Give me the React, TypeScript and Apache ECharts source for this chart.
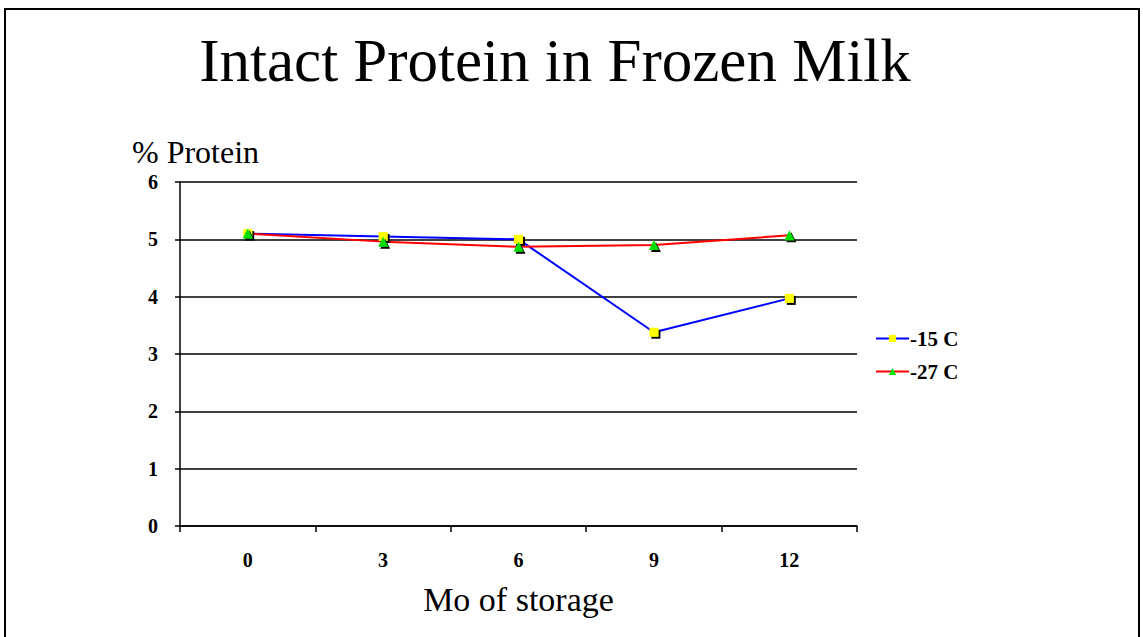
import React, { useEffect, useRef } from "react";
import * as echarts from "echarts";

const months = ["0", "3", "6", "9", "12"];
const minus15 = [5.1, 5.05, 5.0, 3.38, 3.97];
const minus27 = [5.1, 4.96, 4.87, 4.9, 5.07];
const seriesNames = ["-15 C", "-27 C"];
const yAxisTitle = "% Protein";

const SERIF = "Liberation Serif";

export default function App() {
  const ref = useRef<HTMLDivElement>(null);
  useEffect(() => {
    const chart = echarts.init(ref.current!, null, { renderer: "svg" });
    chart.setOption({
      animation: false,
      backgroundColor: "#fff",
      title: [
        {
          text: "Intact Protein in Frozen Milk",
          left: 550,
          textAlign: "center",
          top: 25,
          textStyle: { fontFamily: SERIF, fontSize: 61, fontWeight: "normal", color: "#000" },
        },
        {
          text: yAxisTitle,
          left: 127,
          top: 131,
          textStyle: { fontFamily: SERIF, fontSize: 32, fontWeight: "normal", color: "#000" },
        },
      ],
      graphic: [
        {
          type: "rect",
          shape: { x: 5, y: 9, width: 1134, height: 640 },
          style: { fill: "none", stroke: "#000", lineWidth: 2 },
        },
      ],
      legend: {
        orient: "vertical",
        left: 870,
        top: 323,
        itemGap: 12,
        itemWidth: 33,
        itemHeight: 9,
        textStyle: { fontFamily: SERIF, fontSize: 21, fontWeight: "bold", color: "#000", padding: [0, 0, 0, -4] },
        data: seriesNames,
      },
      grid: { left: 180, right: 286, top: 182, bottom: 111 },
      xAxis: {
        type: "category",
        data: months,
        boundaryGap: true,
        name: "Mo of storage",
        nameLocation: "middle",
        nameGap: 56,
        nameTextStyle: { fontFamily: SERIF, fontSize: 34, color: "#000" },
        axisLine: { lineStyle: { color: "#000", width: 1.5 } },
        axisTick: { show: true, length: 6, lineStyle: { color: "#000", width: 1.5 } },
        axisLabel: { fontFamily: SERIF, fontSize: 20, fontWeight: "bold", color: "#000", margin: 24 },
        splitLine: { show: false },
      },
      yAxis: {
        type: "value",
        min: 0,
        max: 6,
        interval: 1,
        axisLine: { show: true, lineStyle: { color: "#000", width: 1.5 } },
        axisTick: { show: true, length: 5, lineStyle: { color: "#000", width: 1.5 } },
        axisLabel: { fontFamily: SERIF, fontSize: 20, fontWeight: "bold", color: "#000", margin: 22 },
        splitLine: { show: true, lineStyle: { color: "#000", width: 1.5 } },
      },
      series: [
        {
          name: seriesNames[0],
          type: "line",
          data: minus15,
          symbol: "rect",
          symbolSize: 9,
          color: "#ffff00",
          lineStyle: { color: "#0000ff", width: 2 },
          itemStyle: { color: "#ffff00", shadowColor: "#000", shadowOffsetX: 2, shadowOffsetY: 2, shadowBlur: 0 },
        },
        {
          name: seriesNames[1],
          type: "line",
          data: minus27,
          symbol: "triangle",
          symbolSize: 10,
          color: "#00cc00",
          lineStyle: { color: "#ff0000", width: 2 },
          itemStyle: { color: "#00dd00", shadowColor: "#000", shadowOffsetX: 2, shadowOffsetY: 2, shadowBlur: 0 },
        },
      ],
    });
    return () => chart.dispose();
  }, []);
  return (
    <div
      ref={ref}
      style={{ position: "absolute", left: 0, top: 0, width: 1143, height: 637 }}
    />
  );
}
